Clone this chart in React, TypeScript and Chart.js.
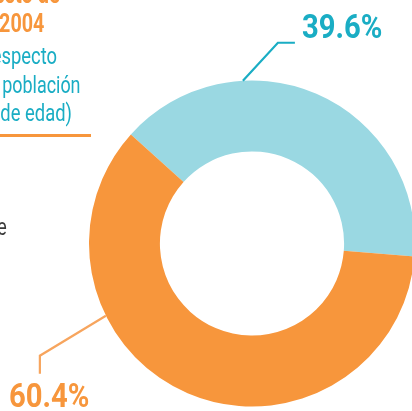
import React, { useEffect, useRef } from "react";
import { Chart, registerables } from "chart.js";

Chart.register(...registerables);

const categories = ["Respecto a la población", "Resto"];
const values = [39.6, 60.4];
const colors = ["#9AD8E2", "#F7963C"];
const valueLabels = ["39.6%", "60.4%"];

const FONT = '"Roboto", "Liberation Sans", sans-serif';
const TEAL = "#1AADC4";
const ORANGE = "#F7963C";

const leaderPlugin = {
  id: "leaders",
  afterDraw(chart: any) {
    const meta = chart.getDatasetMeta(0);
    const arc = meta.data[0];
    if (!arc) return;
    const { x, y, outerRadius } = arc.getProps(["x", "y", "outerRadius"], true);
    const ctx = chart.ctx;
    ctx.save();
    ctx.lineWidth = 2.2;
    let a = (266.8 * Math.PI) / 180;
    let sx = x + outerRadius * Math.cos(a);
    let sy = y + outerRadius * Math.sin(a);
    ctx.strokeStyle = TEAL;
    ctx.beginPath();
    ctx.moveTo(sx, sy);
    ctx.lineTo(sx + 35, sy - 38);
    ctx.lineTo(sx + 52, sy - 38);
    ctx.stroke();
    a = (153.7 * Math.PI) / 180;
    sx = x + outerRadius * Math.cos(a);
    sy = y + outerRadius * Math.sin(a);
    ctx.strokeStyle = "#F7A55E";
    ctx.beginPath();
    ctx.moveTo(sx, sy);
    ctx.lineTo(sx - 66, sy + 40);
    ctx.lineTo(sx - 66, sy + 58);
    ctx.stroke();
    ctx.restore();
  },
};

export default function App() {
  const ref = useRef<HTMLCanvasElement | null>(null);
  useEffect(() => {
    if (!ref.current) return;
    const chart = new Chart(ref.current, {
      type: "doughnut",
      data: {
        labels: categories,
        datasets: [
          {
            data: values,
            backgroundColor: colors,
            borderWidth: 0,
          },
        ],
      },
      options: {
        responsive: false,
        animation: false,
        cutout: "56.5%",
        rotation: 312,
        layout: { padding: { left: 89, right: 5, top: 80, bottom: 4 } },
        plugins: {
          legend: { display: false },
          tooltip: { enabled: false },
        },
      },
      plugins: [leaderPlugin],
    });
    return () => chart.destroy();
  }, []);

  const line = (
    text: string,
    right: number,
    top: number,
    size: number,
    color: string,
    bold: boolean,
    sx: number
  ) => (
    <div
      style={{
        position: "absolute",
        right: 412 - right,
        top,
        fontSize: size,
        lineHeight: size + "px",
        color,
        fontWeight: bold ? 700 : 400,
        whiteSpace: "nowrap",
        fontFamily: FONT,
        transform: `scaleX(${sx})`,
        transformOrigin: "right center",
      }}
    >
      {text}
    </div>
  );

  const pct = (text: string, left: number, top: number, color: string) => (
    <div
      style={{
        position: "absolute",
        left,
        top,
        fontSize: 34,
        lineHeight: "34px",
        color,
        fontWeight: 700,
        whiteSpace: "nowrap",
        fontFamily: FONT,
        transform: "scaleX(0.86)",
        transformOrigin: "left center",
      }}
    >
      {text}
    </div>
  );

  return (
    <div
      style={{
        position: "fixed",
        left: 0,
        top: 0,
        width: 412,
        height: 411,
        overflow: "hidden",
        background: "#fff",
      }}
    >
      <canvas
        ref={ref}
        width={420}
        height={411}
        style={{ position: "absolute", left: 0, top: 0, width: 420, height: 411 }}
      />
      {line("Proyecto de", 60, -18, 25, ORANGE, true, 0.8)}
      {line("2004", 44, 11, 25, ORANGE, true, 0.79)}
      {line("(respecto", 57, 44.5, 23, TEAL, false, 0.8)}
      {line("a la población", 81, 73.5, 23, TEAL, false, 0.78)}
      {line("65 años de edad)", 72, 101.5, 23, TEAL, false, 0.8)}
      <div
        style={{
          position: "absolute",
          left: 0,
          top: 134,
          width: 91,
          height: 2.5,
          background: ORANGE,
        }}
      />
      {line("mayores de", 7, 215.5, 23, "#3A3A3A", false, 0.8)}
      {pct(valueLabels[0], 302, 9, TEAL)}
      {pct(valueLabels[1], 9, 378, ORANGE)}
    </div>
  );
}
